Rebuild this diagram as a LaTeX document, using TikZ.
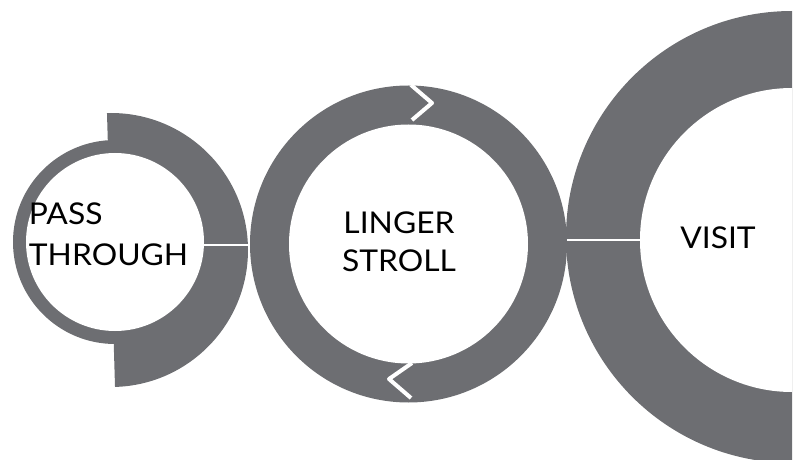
\documentclass[tikz,border=0pt]{standalone}
\usepackage{fontspec}
\setmainfont{Lato}[FakeStretch=1.06]
\definecolor{ringgray}{RGB}{109,110,114}
\begin{document}
\begin{tikzpicture}[x=0.75pt,y=-0.75pt,
  ringfill/.style={fill=ringgray,draw=none},
  holefill/.style={fill=white,draw=none},
  linkline/.style={draw=white,line width=1.6pt},
  zigline/.style={draw=white,line width=3pt,line join=round},
  label/.style={inner sep=0pt,text=black,font=\fontsize{22.5}{31}\selectfont}]
\useasboundingbox (0,0) rectangle (794,460);
% left shape: half disc + thin ring
\begin{scope}
  \clip (106.6,100) -- (115.4,400) -- (300,400) -- (300,100) -- cycle;
  \fill[ringfill] (111,250) circle[radius=137];
\end{scope}
\fill[ringfill] (115,242) circle[radius=102];
\fill[holefill] (115,242) circle[radius=89];
% middle ring
\fill[ringfill] (408.5,244) circle[radius=158.5];
\fill[holefill] (408.5,244) circle[radius=119.5];
% right ring
\begin{scope}
  \clip (0,0) rectangle (792,460);
  \fill[ringfill] (792,237) circle[radius=226];
  \fill[holefill] (792,240) circle[radius=152];
\end{scope}
% connectors
\coordinate (l1) at (203,245);
\coordinate (l2) at (250,245);
\coordinate (r1) at (567,240);
\coordinate (r2) at (640,240);
\draw[linkline] (l1) -- (l2);
\draw[linkline] (r1) -- (r2);
\coordinate (t1) at (411,85);
\coordinate (t2) at (432,103);
\coordinate (t3) at (412,120);
\coordinate (b1) at (412,363);
\coordinate (b2) at (389,379);
\coordinate (b3) at (411,398);
\draw[zigline] (t1) -- (t2) -- (t3);
\draw[zigline] (b1) -- (b2) -- (b3);
% labels
\node[label,align=left] (pass) at (108.5,234) {PASS\\THROUGH};
\node[label,align=center,font=\fontsize{22.5}{28.8}\selectfont] (linger) at (399,242) {LINGER\\STROLL};
\node[label] (visit) at (718,238) {VISIT};
\end{tikzpicture}
\end{document}
